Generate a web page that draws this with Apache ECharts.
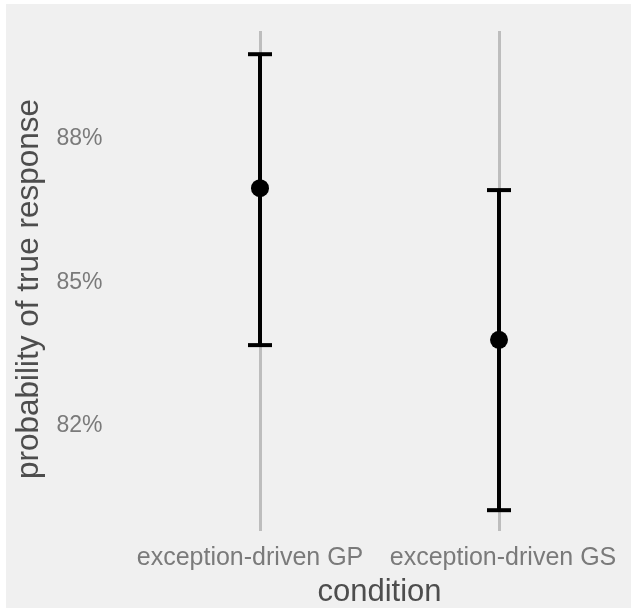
<!DOCTYPE html>
<html>
<head>
<meta charset="utf-8">
<script src="https://cdn.jsdelivr.net/npm/echarts@6/dist/echarts.min.js"></script>
<style>
  html, body { margin: 0; padding: 0; background: #ffffff; }
  #chart { position: absolute; left: 6px; top: 4px; width: 625px; height: 604px; }
</style>
</head>
<body>
<div id="chart"></div>
<script>
// Conditions and estimated probability of a true response (percent)
const conditions = ['exception-driven GP', 'exception-driven GS'];
const estimate = [86.89, 83.72];
const lower = [83.61, 80.16];
const upper = [89.69, 86.85];
const yTicks = [82, 85, 88];

const font = '"Liberation Sans", Arial, sans-serif';

const chart = echarts.init(document.getElementById('chart'));

const intervals = conditions.map((c, i) => [i, lower[i], upper[i]]);

chart.setOption({
  backgroundColor: '#f0f0f0',
  animation: false,
  grid: { left: 134.5, width: 478, top: 27, height: 500, outerBoundsMode: 'none', containLabel: false },
  xAxis: {
    type: 'category',
    data: conditions,
    boundaryGap: true,
    name: 'condition',
    nameLocation: 'middle',
    nameGap: 46,
    nameTextStyle: { fontFamily: font, fontSize: 31, color: '#4d4d4d' },
    axisLine: { show: false },
    axisTick: { show: false },
    splitLine: { show: false },
    axisLabel: {
      interval: 0,
      hideOverlap: false,
      fontFamily: font, fontSize: 25, color: '#7a7a7a', margin: 15,
      formatter: (v, i) => (i === 0 ? '{a|' + v + '}' : '{b|' + v + '}'),
      rich: {
        a: { fontFamily: font, fontSize: 25, color: '#7a7a7a', padding: [0, 20, 0, 0] },
        b: { fontFamily: font, fontSize: 25, color: '#7a7a7a', padding: [0, 0, 0, 8] }
      }
    }
  },
  yAxis: {
    type: 'value',
    min: 79.725,
    max: 90.175,
    name: 'probability of true response',
    nameLocation: 'middle',
    nameGap: 92,
    nameTextStyle: { fontFamily: font, fontSize: 31.5, color: '#4d4d4d', padding: [0, 16, 0, 0] },
    axisLine: { show: false },
    axisTick: { show: false },
    splitLine: { show: false },
    axisLabel: {
      customValues: yTicks,
      formatter: v => '{t|' + v + '%}',
      fontFamily: font, fontSize: 23, color: '#7a7a7a', margin: 38,
      rich: {
        t: { fontFamily: font, fontSize: 23, color: '#7a7a7a', padding: [8, 0, 0, 0] }
      }
    }
  },
  series: [
    {
      // vertical guide through each condition
      type: 'scatter',
      data: [],
      z: 1,
      silent: true,
      markLine: {
        z: 1,
        silent: true,
        symbol: 'none',
        label: { show: false },
        emphasis: { disabled: true },
        lineStyle: { color: '#bdbdbd', width: 3, type: 'solid' },
        data: conditions.map(c => ({ xAxis: c }))
      }
    },
    {
      // interval bars with end caps
      type: 'custom',
      z: 3,
      data: intervals,
      renderItem: (params, api) => {
        const x = api.value(0);
        const lo = api.coord([x, api.value(1)]);
        const hi = api.coord([x, api.value(2)]);
        const cap = 12;
        const mk = (x1, y1, x2, y2) => ({
          type: 'line',
          shape: { x1, y1, x2, y2 },
          style: { stroke: '#000000', lineWidth: 4 }
        });
        return {
          type: 'group',
          children: [
            mk(lo[0], lo[1], hi[0], hi[1]),
            mk(lo[0] - cap, lo[1], lo[0] + cap, lo[1]),
            mk(hi[0] - cap, hi[1], hi[0] + cap, hi[1])
          ]
        };
      }
    },
    {
      type: 'scatter',
      z: 4,
      symbol: 'circle',
      symbolSize: 18,
      itemStyle: { color: '#000000', opacity: 1 },
      data: conditions.map((c, i) => [c, estimate[i]])
    }
  ]
});
</script>
</body>
</html>
